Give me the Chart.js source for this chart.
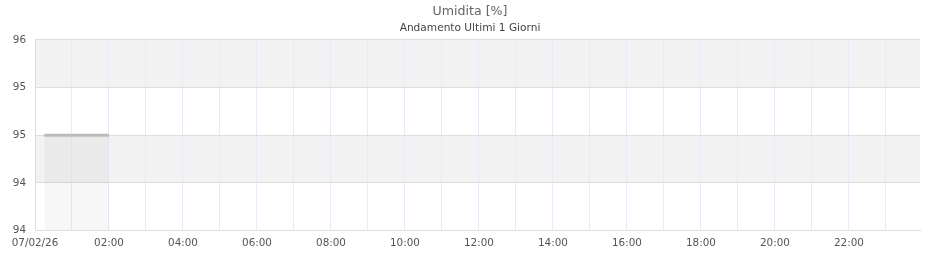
<!DOCTYPE html>
<html lang="it">
<head>
    <meta charset="UTF-8">
    <title>Umidita [%]</title>
    <script src="https://cdn.jsdelivr.net/npm/chart.js"></script>
    <style>
        html, body { margin: 0; padding: 0; background: #fff; }
        .chart-box { width: 940px; height: 260px; }
    </style>
</head>
<body>
    <div class="chart-box">
        <canvas id="umiditaChart"></canvas>
    </div>

    <script>
        // Data: hours since 07/02/26 00:00
        const sampleHours = [0.25, 0.5, 0.75, 1, 1.25, 1.5, 1.75, 2];
        const humidity = [95, 95, 95, 95, 95, 95, 95, 95];
        const yTickValues = [94, 94.5, 95, 95.5, 96];
        const yTickLabels = ['94', '94', '95', '95', '96'];
        const xTickLabels = ['07/02/26', '02:00', '04:00', '06:00', '08:00', '10:00', '12:00',
                             '14:00', '16:00', '18:00', '20:00', '22:00'];

        // grey stripes between every other y tick, under the grid
        const bandPlugin = {
            id: 'bands',
            beforeDraw(chart) {
                const { ctx, chartArea, scales } = chart;
                const y = scales.y;
                ctx.save();
                ctx.fillStyle = '#f2f2f2';
                for (let i = 1; i < yTickValues.length - 1; i += 2) {
                    const top = y.getPixelForValue(yTickValues[i + 1]);
                    const bottom = y.getPixelForValue(yTickValues[i]);
                    ctx.fillRect(chartArea.left, top, chartArea.right - chartArea.left, bottom - top);
                }
                ctx.restore();
            }
        };

        const font = { family: 'DejaVu Sans', size: 10.4 };

        new Chart(document.getElementById('umiditaChart'), {
            type: 'line',
            data: {
                datasets: [{
                    label: 'Umidita',
                    data: sampleHours.map((h, i) => ({ x: h, y: humidity[i] })),
                    borderColor: '#bbbbbb',
                    backgroundColor: 'rgba(0, 0, 0, 0.03)',
                    borderWidth: 3,
                    pointRadius: 0,
                    fill: 'start',
                    tension: 0
                }]
            },
            plugins: [bandPlugin],
            options: {
                responsive: true,
                maintainAspectRatio: false,
                animation: false,
                layout: { padding: { left: 20, right: 20, top: 0, bottom: 3 } },
                plugins: {
                    legend: { display: false },
                    tooltip: { enabled: false },
                    title: {
                        display: true,
                        text: 'Umidita [%]',
                        color: '#666',
                        font: { family: 'DejaVu Sans', size: 12.6, weight: 'normal' },
                        padding: { top: 4, bottom: 3 }
                    },
                    subtitle: {
                        display: true,
                        text: 'Andamento Ultimi 1 Giorni',
                        color: '#444',
                        font: { family: 'DejaVu Sans', size: 10.6 },
                        padding: { top: 0, bottom: 5 }
                    }
                },
                scales: {
                    x: {
                        type: 'linear',
                        min: 0,
                        max: 23.92,
                        border: { color: '#dddddd' },
                        grid: {
                            color: '#ebe8f8',
                            drawTicks: false
                        },
                        ticks: {
                            autoSkip: false,
                            maxRotation: 0,
                            color: '#555',
                            font: font,
                            padding: 7,
                            callback: v => (v % 2 === 0 ? xTickLabels[v / 2] : '')
                        },
                        afterBuildTicks: axis => {
                            axis.ticks = [];
                            for (let h = 0; h <= 23; h++) axis.ticks.push({ value: h });
                        }
                    },
                    y: {
                        min: 94,
                        max: 96,
                        border: { color: '#dddddd' },
                        grid: {
                            color: '#dddddd',
                            drawTicks: false
                        },
                        ticks: {
                            stepSize: 0.5,
                            color: '#555',
                            font: font,
                            padding: 9,
                            callback: v => yTickLabels[yTickValues.indexOf(v)]
                        },
                        afterFit: axis => {
                            // narrow axis box so the title stays centred on the page;
                            // labels are allowed to spill into the left padding
                            axis.width = 15;
                            axis._computeLabelArea = () => undefined;
                        }
                    }
                }
            }
        });
    </script>
</body>
</html>
